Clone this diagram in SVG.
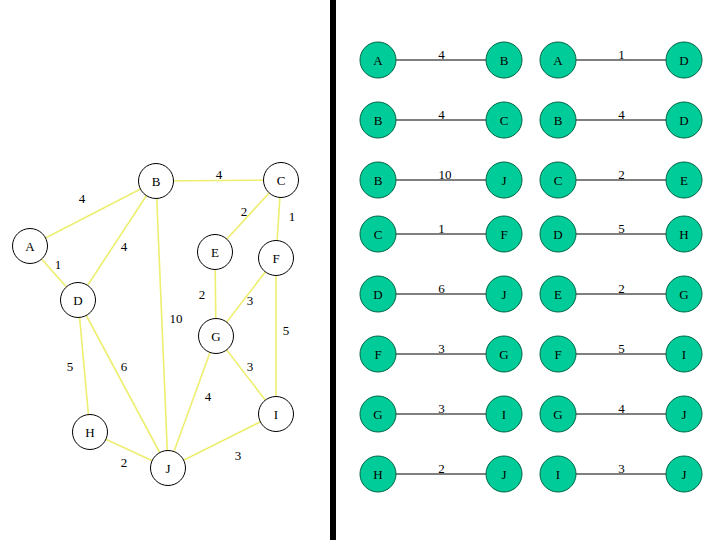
<svg xmlns="http://www.w3.org/2000/svg" width="720" height="540" viewBox="0 0 720 540">
<style>
text{font-family:"Liberation Serif","Times New Roman",serif;font-size:13px;fill:#000;text-anchor:middle}
.n{fill:#fff;stroke:#000;stroke-width:1}
.g{fill:#00cc99;stroke:#006644;stroke-width:1}
.y{stroke:#eeee70;stroke-width:1.6;fill:none}
.k{stroke:#000;stroke-width:1.2}
</style>
<rect width="720" height="540" fill="#fff"/>
<g id="connectors">
<line class="y" x1="30" y1="246" x2="156" y2="181"/>
<line class="y" x1="156" y1="181" x2="281" y2="180"/>
<line class="y" x1="281" y1="180" x2="215" y2="252"/>
<line class="y" x1="281" y1="180" x2="276" y2="258"/>
<line class="y" x1="156" y1="181" x2="78" y2="300"/>
<line class="y" x1="30" y1="246" x2="78" y2="300"/>
<line class="y" x1="215" y1="252" x2="216" y2="336"/>
<line class="y" x1="276" y1="258" x2="216" y2="336"/>
<line class="y" x1="156" y1="181" x2="168" y2="468"/>
<line class="y" x1="276" y1="258" x2="276" y2="414"/>
<line class="y" x1="78" y1="300" x2="90" y2="432"/>
<line class="y" x1="78" y1="300" x2="168" y2="468"/>
<line class="y" x1="216" y1="336" x2="276" y2="414"/>
<line class="y" x1="216" y1="336" x2="168" y2="468"/>
<line class="y" x1="276" y1="414" x2="168" y2="468"/>
<line class="y" x1="90" y1="432" x2="168" y2="468"/>
<g class="k">
<line x1="396" y1="60" x2="486" y2="60"/><line x1="576" y1="60" x2="666" y2="60"/>
<line x1="396" y1="120" x2="486" y2="120"/><line x1="576" y1="120" x2="666" y2="120"/>
<line x1="396" y1="180" x2="486" y2="180"/><line x1="576" y1="180" x2="666" y2="180"/>
<line x1="396" y1="234" x2="486" y2="234"/><line x1="576" y1="234" x2="666" y2="234"/>
<line x1="396" y1="294" x2="486" y2="294"/><line x1="576" y1="294" x2="666" y2="294"/>
<line x1="396" y1="354" x2="486" y2="354"/><line x1="576" y1="354" x2="666" y2="354"/>
<line x1="396" y1="414" x2="486" y2="414"/><line x1="576" y1="414" x2="666" y2="414"/>
<line x1="396" y1="474" x2="486" y2="474"/><line x1="576" y1="474" x2="666" y2="474"/>
</g>
</g>
<g id="edge-labels">
<text x="82" y="202.5">4</text>
<text x="219" y="178.5">4</text>
<text x="244" y="215.5">2</text>
<text x="292" y="221">1</text>
<text x="124" y="251">4</text>
<text x="58" y="269">1</text>
<text x="202" y="299">2</text>
<text x="250" y="305">3</text>
<text x="176" y="323">10</text>
<text x="286" y="334.5">5</text>
<text x="70" y="371">5</text>
<text x="124" y="371">6</text>
<text x="250" y="371">3</text>
<text x="208" y="401">4</text>
<text x="238" y="460">3</text>
<text x="124" y="467">2</text>
<text x="441.5" y="59">4</text><text x="621.5" y="59">1</text>
<text x="441.5" y="119">4</text><text x="621.5" y="119">4</text>
<text x="445" y="179">10</text><text x="621.5" y="179">2</text>
<text x="441.5" y="233">1</text><text x="621.5" y="233">5</text>
<text x="441.5" y="293">6</text><text x="621.5" y="293">2</text>
<text x="441.5" y="353">3</text><text x="621.5" y="353">5</text>
<text x="441.5" y="413">3</text><text x="621.5" y="413">4</text>
<text x="441.5" y="473">2</text><text x="621.5" y="473">3</text>
</g>
<g id="node-A"><circle class="n" cx="30" cy="246" r="17.5"/><text x="30" y="250.5">A</text></g>
<g id="node-B"><circle class="n" cx="156" cy="181" r="17.5"/><text x="156" y="185.5">B</text></g>
<g id="node-C"><circle class="n" cx="281" cy="180" r="17.5"/><text x="281" y="184.5">C</text></g>
<g id="node-D"><circle class="n" cx="78" cy="300" r="17.5"/><text x="78" y="304.5">D</text></g>
<g id="node-E"><circle class="n" cx="215" cy="252" r="17.5"/><text x="215" y="256.5">E</text></g>
<g id="node-F"><circle class="n" cx="276" cy="258" r="17.5"/><text x="276" y="262.5">F</text></g>
<g id="node-G"><circle class="n" cx="216" cy="336" r="17.5"/><text x="216" y="340.5">G</text></g>
<g id="node-H"><circle class="n" cx="90" cy="432" r="17.5"/><text x="90" y="436.5">H</text></g>
<g id="node-I"><circle class="n" cx="276" cy="414" r="17.5"/><text x="276" y="418.5">I</text></g>
<g id="node-J"><circle class="n" cx="168" cy="468" r="17.5"/><text x="168" y="472.5">J</text></g>
<rect id="divider" x="330" y="0" width="6" height="540" fill="#000"/>
<g id="list">
<g id="r1a"><circle class="g" cx="378" cy="60" r="18"/><text x="378" y="64.5">A</text><circle class="g" cx="504" cy="60" r="18"/><text x="504" y="64.5">B</text></g>
<g id="r1b"><circle class="g" cx="558" cy="60" r="18"/><text x="558" y="64.5">A</text><circle class="g" cx="684" cy="60" r="18"/><text x="684" y="64.5">D</text></g>
<g id="r2a"><circle class="g" cx="378" cy="120" r="18"/><text x="378" y="124.5">B</text><circle class="g" cx="504" cy="120" r="18"/><text x="504" y="124.5">C</text></g>
<g id="r2b"><circle class="g" cx="558" cy="120" r="18"/><text x="558" y="124.5">B</text><circle class="g" cx="684" cy="120" r="18"/><text x="684" y="124.5">D</text></g>
<g id="r3a"><circle class="g" cx="378" cy="180" r="18"/><text x="378" y="184.5">B</text><circle class="g" cx="504" cy="180" r="18"/><text x="504" y="184.5">J</text></g>
<g id="r3b"><circle class="g" cx="558" cy="180" r="18"/><text x="558" y="184.5">C</text><circle class="g" cx="684" cy="180" r="18"/><text x="684" y="184.5">E</text></g>
<g id="r4a"><circle class="g" cx="378" cy="234" r="18"/><text x="378" y="238.5">C</text><circle class="g" cx="504" cy="234" r="18"/><text x="504" y="238.5">F</text></g>
<g id="r4b"><circle class="g" cx="558" cy="234" r="18"/><text x="558" y="238.5">D</text><circle class="g" cx="684" cy="234" r="18"/><text x="684" y="238.5">H</text></g>
<g id="r5a"><circle class="g" cx="378" cy="294" r="18"/><text x="378" y="298.5">D</text><circle class="g" cx="504" cy="294" r="18"/><text x="504" y="298.5">J</text></g>
<g id="r5b"><circle class="g" cx="558" cy="294" r="18"/><text x="558" y="298.5">E</text><circle class="g" cx="684" cy="294" r="18"/><text x="684" y="298.5">G</text></g>
<g id="r6a"><circle class="g" cx="378" cy="354" r="18"/><text x="378" y="358.5">F</text><circle class="g" cx="504" cy="354" r="18"/><text x="504" y="358.5">G</text></g>
<g id="r6b"><circle class="g" cx="558" cy="354" r="18"/><text x="558" y="358.5">F</text><circle class="g" cx="684" cy="354" r="18"/><text x="684" y="358.5">I</text></g>
<g id="r7a"><circle class="g" cx="378" cy="414" r="18"/><text x="378" y="418.5">G</text><circle class="g" cx="504" cy="414" r="18"/><text x="504" y="418.5">I</text></g>
<g id="r7b"><circle class="g" cx="558" cy="414" r="18"/><text x="558" y="418.5">G</text><circle class="g" cx="684" cy="414" r="18"/><text x="684" y="418.5">J</text></g>
<g id="r8a"><circle class="g" cx="378" cy="474" r="18"/><text x="378" y="478.5">H</text><circle class="g" cx="504" cy="474" r="18"/><text x="504" y="478.5">J</text></g>
<g id="r8b"><circle class="g" cx="558" cy="474" r="18"/><text x="558" y="478.5">I</text><circle class="g" cx="684" cy="474" r="18"/><text x="684" y="478.5">J</text></g>
</g>
</svg>
